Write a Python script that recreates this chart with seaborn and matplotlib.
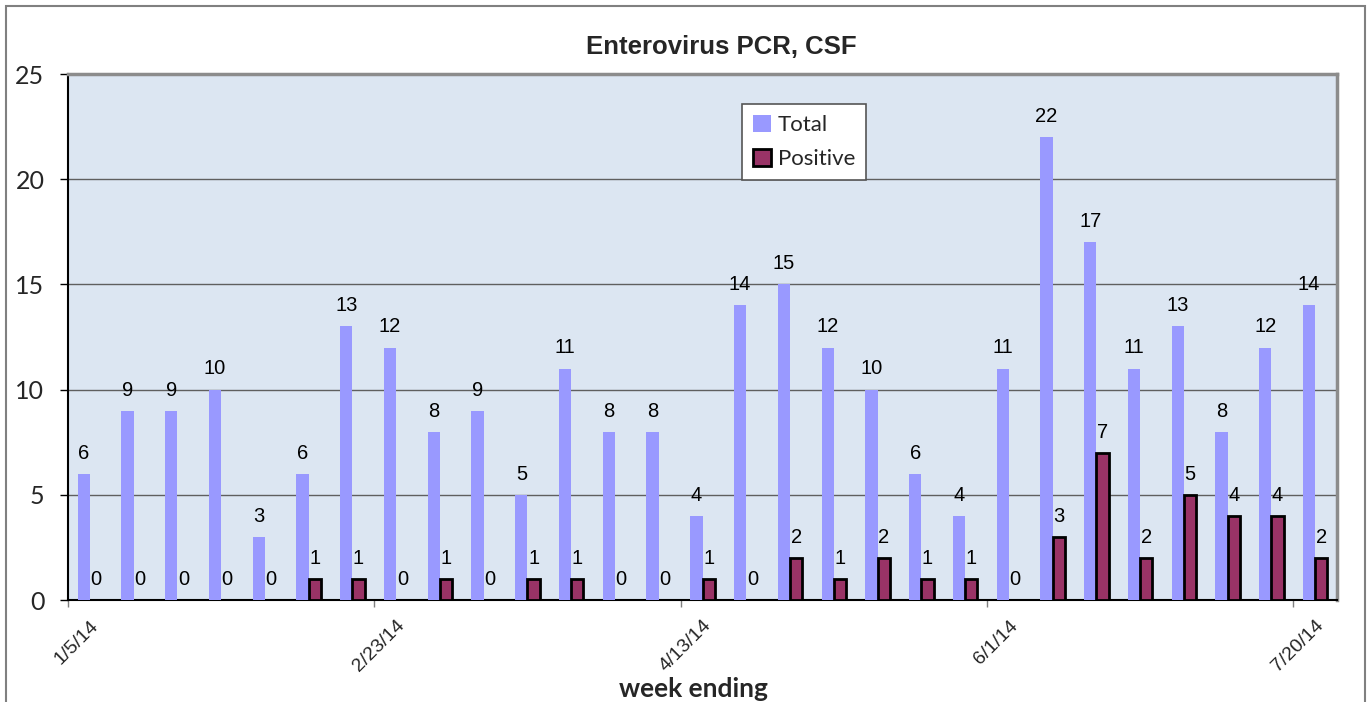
import pandas as pd
import numpy as np
import matplotlib
matplotlib.use('Agg')
import matplotlib.pyplot as plt
import seaborn as sns
from matplotlib.patches import Patch, Rectangle
from matplotlib.transforms import ScaledTranslation

# data
weeks = ['1/5/14', '1/12/14', '1/19/14', '1/26/14', '2/2/14', '2/9/14', '2/16/14',
         '2/23/14', '3/2/14', '3/9/14', '3/16/14', '3/23/14', '3/30/14', '4/6/14',
         '4/13/14', '4/20/14', '4/27/14', '5/4/14', '5/11/14', '5/18/14', '5/25/14',
         '6/1/14', '6/8/14', '6/15/14', '6/22/14', '6/29/14', '7/6/14', '7/13/14', '7/20/14']
total = [6, 9, 9, 10, 3, 6, 13, 12, 8, 9, 5, 11, 8, 8, 4, 14, 15, 12, 10, 6, 4, 11, 22, 17, 11, 13, 8, 12, 14]
positive = [0, 0, 0, 0, 0, 1, 1, 0, 1, 0, 1, 1, 0, 0, 1, 0, 2, 1, 2, 1, 1, 0, 3, 7, 2, 5, 4, 4, 2]
tick_labels = ['1/5/14', '2/23/14', '4/13/14', '6/1/14', '7/20/14']

df = pd.DataFrame({
    'week': weeks * 2,
    'series': ['Total'] * len(weeks) + ['Positive'] * len(weeks),
    'count': total + positive,
})
colors = {'Total': '#9999FF', 'Positive': '#993366'}

sns.set_style('white')
plt.rcParams['font.family'] = ['Liberation Sans', 'DejaVu Sans']

fig = plt.figure(figsize=(13.68, 7.02), dpi=100)
ax = fig.add_axes([68/1368, 1-600/702, (1337-68)/1368, (600-74)/702])

sns.barplot(data=df, x='week', y='count', hue='series', order=weeks,
            hue_order=['Total', 'Positive'], palette=colors, saturation=1,
            width=0.56, legend=False, ax=ax, zorder=3)

for bar in ax.containers[0]:
    bar.set_edgecolor('none')
for bar in ax.containers[1]:
    bar.set_edgecolor('black')
    bar.set_linewidth(2)

for c in ax.containers:
    ax.bar_label(c, padding=8, fontsize=14.5, color='black')

ax.set_facecolor('#DCE6F2')
ax.set_xlim(-0.5, len(weeks) - 0.5)
ax.set_ylim(0, 25)
ax.set_yticks(range(0, 26, 5))
ax.yaxis.grid(True, color='#5f5f5f', lw=1)
ax.set_axisbelow(True)
ax.set_xlabel('')
ax.set_ylabel('')

ax.set_xticks([weeks.index(t) - 0.5 for t in tick_labels])
ax.set_xticklabels(tick_labels, fontsize=14)
ax.tick_params(axis='x', length=5, width=1, color='#7f7f7f', pad=0, bottom=True)
ax.tick_params(axis='y', length=6, width=1, color='black', pad=11, left=True)
for lbl in ax.get_yticklabels():
    lbl.set_family(['Lato', 'DejaVu Sans'])
    lbl.set_fontsize(18)
for lbl in ax.get_xticklabels():
    lbl.set_rotation(45)
    lbl.set_ha('right')
    lbl.set_va('top')
    lbl.set_rotation_mode('anchor')
    lbl.set_transform(lbl.get_transform() + ScaledTranslation(0.22, -0.10, fig.dpi_scale_trans))

for s in ['left', 'bottom']:
    ax.spines[s].set_color('black')
    ax.spines[s].set_linewidth(1.5)
for s in ['top', 'right']:
    ax.spines[s].set_color('#8c8c8c')
    ax.spines[s].set_linewidth(2.5)

handles = [Patch(facecolor=colors['Total'], edgecolor='none', label='Total'),
           Patch(facecolor=colors['Positive'], edgecolor='black', linewidth=2, label='Positive')]
leg = fig.legend(handles=handles, loc='upper left', bbox_to_anchor=(742/1368, 1-104/702),
                 frameon=True, fancybox=False, edgecolor='#555555', framealpha=1,
                 handlelength=0.8, handleheight=0.8, handletextpad=0.3,
                 labelspacing=0.6, borderpad=0.5, borderaxespad=0,
                 prop={'family': ['Lato', 'DejaVu Sans'], 'size': 16})
leg.get_frame().set_linewidth(1.2)

fig.text(721/1368, 1-47/702, 'Enterovirus PCR, CSF', ha='center', va='center',
         fontsize=18.5, fontweight='bold')
fig.text(693/1368, 1-689/702, 'week ending', ha='center', va='center',
         fontsize=19, fontweight='bold', family=['Lato', 'DejaVu Sans'])

fig.add_artist(Rectangle((6/1368, -0.1), 1359/1368, 1.1 - 6/702, transform=fig.transFigure,
                         fill=False, edgecolor='#808080', linewidth=1.5))

fig.savefig('out.png', dpi=100)
